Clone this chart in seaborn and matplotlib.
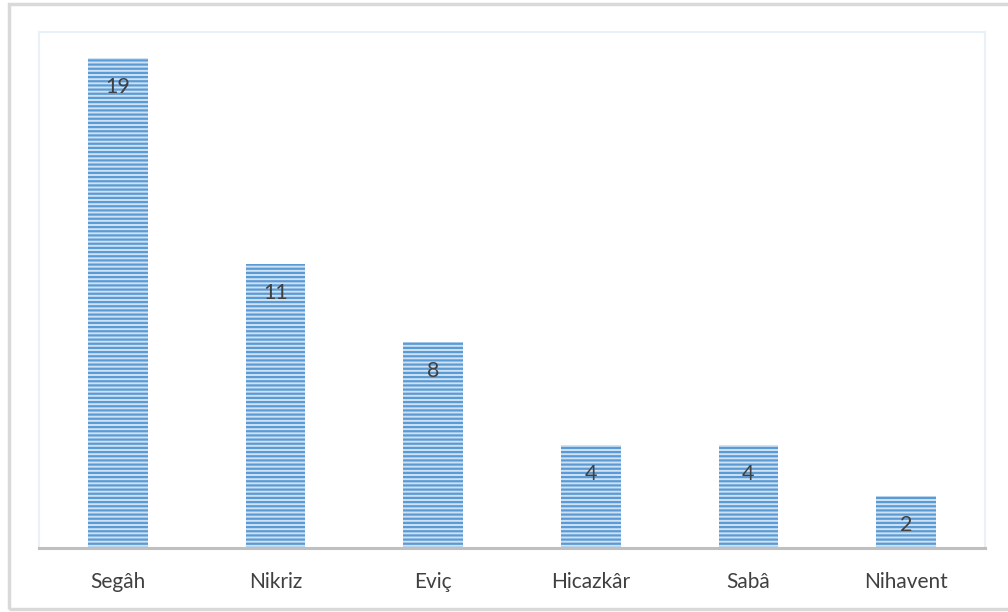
import matplotlib
matplotlib.use("Agg")
import matplotlib.pyplot as plt
import seaborn as sns
import pandas as pd
from matplotlib.patches import Rectangle

# Veriler
makamlar = ['Segâh', 'Nikriz', 'Eviç', 'Hicazkâr', 'Sabâ', 'Nihavent']
sayilar = [19, 11, 8, 4, 4, 2]

df = pd.DataFrame({'makam': makamlar, 'sayi': sayilar})

sns.set_style("white")
plt.rcParams['font.family'] = ['Lato', 'DejaVu Sans']
plt.rcParams['hatch.linewidth'] = 1.6
plt.rcParams['hatch.color'] = '#5B9BD5'

fig = plt.figure(figsize=(10.08, 6.12), dpi=100)
ax = fig.add_axes([39 / 1008, 1 - 548 / 612, (985 - 39) / 1008, (548 - 32) / 612])

sns.barplot(data=df, x='makam', y='sayi', ax=ax, color='#CFE2F4',
            width=0.38, saturation=1)

for p in ax.patches:
    p.set_hatch('----')
    p.set_edgecolor('#5B9BD5')
    p.set_linewidth(0)

# Değer etiketleri
for i, v in enumerate(sayilar):
    ax.annotate(str(v), xy=(i, v), xytext=(0, -29), textcoords='offset pixels',
                ha='center', va='center', fontsize=15.5, color='#404040')

ax.set_ylim(0, 20)
ax.set_xlim(-0.5, len(makamlar) - 0.5)
ax.set_yticks([])
ax.set_xlabel('')
ax.set_ylabel('')
ax.tick_params(axis='x', length=0, labelsize=15, labelcolor='#404040', pad=17)

for s in ['top', 'left', 'right']:
    ax.spines[s].set_color('#E8F0FA')
    ax.spines[s].set_linewidth(1.5)
ax.spines['bottom'].set_color('#BFBFBF')
ax.spines['bottom'].set_linewidth(2.2)

# Dış çerçeve
fig.patches.append(Rectangle((9 / 1008, 1 - 609 / 612), (1012 - 9) / 1008, (609 - 4) / 612,
                             transform=fig.transFigure, fill=False,
                             edgecolor='#D9D9D9', linewidth=2.5))

fig.savefig('out.png', dpi=100)
